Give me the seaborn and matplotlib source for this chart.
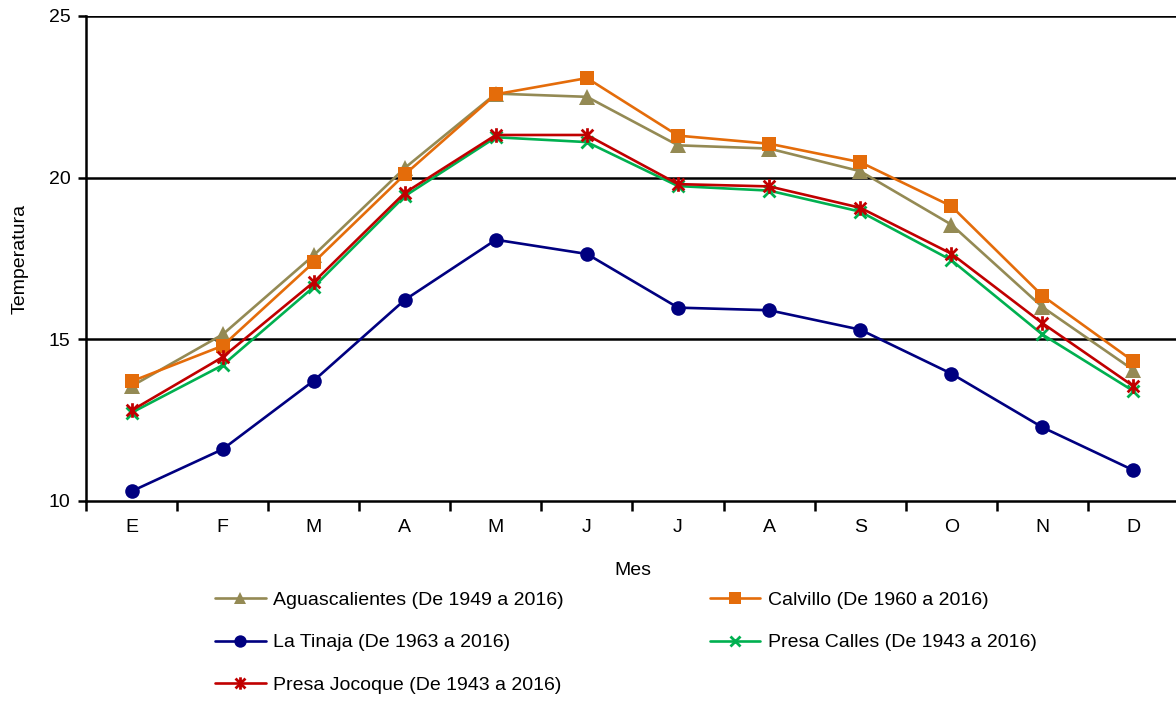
import numpy as np
import pandas as pd
import matplotlib
matplotlib.use("Agg")
import matplotlib.pyplot as plt
from matplotlib.path import Path
import seaborn as sns

months = ["E", "F", "M", "A", "M", "J", "J", "A", "S", "O", "N", "D"]
aguascalientes = [13.55, 15.15, 17.6, 20.3, 22.6, 22.5, 21.0, 20.9, 20.2, 18.55, 16.0, 14.05]
calvillo = [13.7, 14.8, 17.38, 20.1, 22.58, 23.08, 21.3, 21.05, 20.48, 19.12, 16.35, 14.32]
la_tinaja = [10.3, 11.6, 13.72, 16.22, 18.08, 17.64, 15.98, 15.9, 15.3, 13.94, 12.28, 10.95]
presa_calles = [12.73, 14.2, 16.62, 19.43, 21.25, 21.1, 19.74, 19.6, 18.95, 17.45, 15.15, 13.4]
presa_jocoque = [12.8, 14.45, 16.77, 19.53, 21.32, 21.32, 19.8, 19.73, 19.07, 17.65, 15.5, 13.55]

series_names = [
    "Aguascalientes (De 1949 a 2016)",
    "Calvillo (De 1960 a 2016)",
    "La Tinaja (De 1963 a 2016)",
    "Presa Calles (De 1943 a 2016)",
    "Presa Jocoque (De 1943 a 2016)",
]
series_values = [aguascalientes, calvillo, la_tinaja, presa_calles, presa_jocoque]

rows = []
for name, vals in zip(series_names, series_values):
    for i, v in enumerate(vals):
        rows.append({"idx": i, "Temperatura": v, "Serie": name})
df = pd.DataFrame(rows)

star = Path([(0, -1), (0, 1), (-0.8, -0.8), (0.8, 0.8), (-0.8, 0.8), (0.8, -0.8)],
            [Path.MOVETO, Path.LINETO, Path.MOVETO, Path.LINETO, Path.MOVETO, Path.LINETO])

styles = {
    series_names[0]: dict(color="#948A54", marker="^", ms=11, mew=0),
    series_names[1]: dict(color="#E46C0A", marker="s", ms=10.5, mew=0),
    series_names[2]: dict(color="#000080", marker="o", ms=10.5, mew=0),
    series_names[3]: dict(color="#00B050", marker="x", ms=9, mew=2),
    series_names[4]: dict(color="#C00000", marker=star, ms=10.5, mew=2),
}

sns.set_style("white")
plt.rcParams["font.family"] = ["Liberation Sans", "DejaVu Sans"]
plt.rcParams["text.color"] = "black"
plt.rcParams["axes.labelcolor"] = "black"
plt.rcParams["xtick.color"] = "black"
plt.rcParams["ytick.color"] = "black"

FS = 14

fig = plt.figure(figsize=(11.76, 7.02), dpi=100)
ax = fig.add_axes([86 / 1176, 1 - 501 / 702, (1179 - 86) / 1176, (501 - 16) / 702])

handles = {}
for name in series_names:
    st = styles[name]
    sub = df[df["Serie"] == name]
    sns.lineplot(data=sub, x="idx", y="Temperatura", ax=ax, color=st["color"],
                 linewidth=1.9, marker=st["marker"], markersize=st["ms"],
                 markeredgewidth=st["mew"], markeredgecolor=st["color"],
                 label=name, legend=False)
    handles[name] = ax.lines[-1]

ax.set_xlim(-0.5, 11.5)
ax.set_ylim(10, 25)
ax.set_yticks([10, 15, 20, 25])
ax.set_xticks(range(12))
ax.set_xticklabels(months)
ax.set_xticks(np.arange(-0.5, 12, 1), minor=True)
ax.tick_params(axis="x", which="major", length=0, pad=13, labelsize=FS, colors="black")
ax.tick_params(axis="x", which="minor", length=7, width=1.8, direction="out", color="black", bottom=True)
ax.tick_params(axis="y", which="major", length=6, width=1.8, direction="out", color="black",
               labelsize=FS, pad=5, left=True, labelcolor="black")
for y in [15, 20, 25]:
    ax.axhline(y, color="black", linewidth=1.8, zorder=0.5)
for s in ["top", "right"]:
    ax.spines[s].set_visible(False)
for s in ["left", "bottom"]:
    ax.spines[s].set_color("black")
    ax.spines[s].set_linewidth(1.8)

ax.set_xlabel("Mes", fontsize=FS, labelpad=19, color="black")
ax.set_ylabel("Temperatura", fontsize=FS, labelpad=15, color="black")

order = [series_names[0], series_names[2], series_names[4], series_names[1], series_names[3]]
leg = fig.legend([handles[n] for n in order], order, ncol=2, frameon=False,
                 loc="upper left", bbox_to_anchor=(215 / 1176, 1 - 591 / 702),
                 fontsize=FS, handlelength=2.6, handletextpad=0.4, labelspacing=1.29,
                 columnspacing=7.5, borderpad=0, borderaxespad=0, markerscale=0.85)
for t in leg.get_texts():
    t.set_color("black")

fig.savefig("out.png", dpi=100)
